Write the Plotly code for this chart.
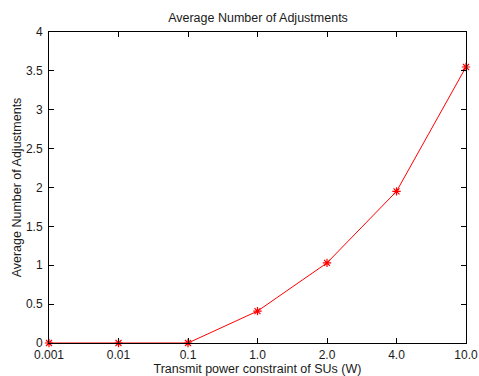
import plotly.graph_objects as go

categories = ["0.001", "0.01", "0.1", "1.0", "2.0", "4.0", "10.0"]
values = [0, 0, 0, 0.41, 1.03, 1.95, 3.55]
y_ticks = [0, 0.5, 1, 1.5, 2, 2.5, 3, 3.5, 4]
y_tick_labels = ["0", "0.5", "1", "1.5", "2", "2.5", "3", "3.5", "4"]

x_pos = list(range(len(categories)))

fig = go.Figure()
fig.add_trace(go.Scatter(
    x=x_pos, y=values, mode="lines+markers",
    line=dict(color="#ff0000", width=1),
    marker=dict(symbol="asterisk-open", size=7, color="#ff0000",
                line=dict(color="#ff0000", width=1.2)),
    cliponaxis=False, showlegend=False,
))

fam = "Liberation Sans, Arial, Helvetica, sans-serif"
txt = "#1a1a1a"

fig.update_layout(
    width=479, height=376,
    margin=dict(l=49, r=13, t=32, b=33, autoexpand=False),
    paper_bgcolor="white", plot_bgcolor="white",
    font=dict(family=fam, size=12, color=txt),
    title=dict(text="Average Number of Adjustments", x=258/479, xanchor="center",
               y=1 - 18/376, yanchor="middle", font=dict(size=12.5, family=fam, color=txt)),
    xaxis=dict(
        range=[0, 6], tickmode="array", tickvals=x_pos, ticktext=categories,
        ticks="inside", ticklen=5, tickcolor="black", mirror="ticks",
        showline=True, linecolor="black", linewidth=1, showgrid=False, zeroline=False,
        automargin=False, ticklabelstandoff=1,
        tickfont=dict(size=12, family=fam, color=txt),
        title=dict(text="Transmit power constraint of SUs (W)", standoff=0,
                   font=dict(size=12.5, family=fam, color=txt)),
    ),
    yaxis=dict(
        range=[0, 4], tickmode="array", tickvals=y_ticks, ticktext=y_tick_labels,
        ticks="inside", ticklen=5, tickcolor="black", mirror="ticks",
        showline=True, linecolor="black", linewidth=1, showgrid=False, zeroline=False,
        automargin=False, ticklabelstandoff=3,
        tickfont=dict(size=12, family=fam, color=txt),
        title=dict(text="Average Number of Adjustments", standoff=1,
                   font=dict(size=12.5, family=fam, color=txt)),
    ),
)

fig.write_html("out.html", config={"displayModeBar": False},
               post_script="document.body.style.margin='0';document.body.style.padding='0';")
